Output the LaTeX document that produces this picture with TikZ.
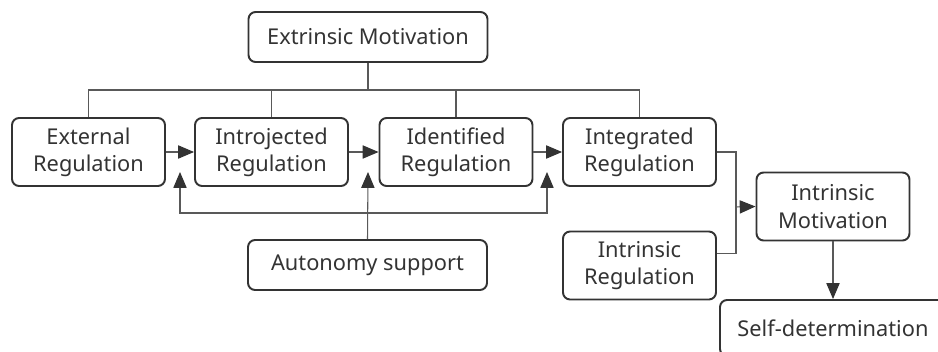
\documentclass[tikz,border=0pt]{standalone}
\usepackage{fontspec}
\setmainfont{Noto Sans}
\usepackage{tikz}
\usetikzlibrary{arrows.meta}

\tikzset{
	box/.style={draw=black!80, line width=1.1pt, rounded corners=4pt, align=center,
		text=black!80, font=\fontsize{12.4}{15.5}\selectfont, inner sep=0pt},
	wide/.style={box, minimum width=4.78cm, minimum height=1cm},
	tall/.style={box, minimum width=3.06cm, minimum height=1.36cm},
	link/.style={draw=black!65, line width=0.6pt},
	arr/.style={link, -{Triangle[length=9pt,width=7.5pt,color=black!80]}}
}

\begin{document}
\begin{tikzpicture}[x=0.02cm, y=-0.02cm]
		\useasboundingbox (0,0) rectangle (938,352);

		\node[wide] (em) at (368, 37) {Extrinsic Motivation};
		\node[tall] (ext) at (88.5, 152) {External\\Regulation};
		\node[tall] (intro) at (271.5, 152) {Introjected\\Regulation};
		\node[tall] (iden) at (456, 152) {Identified\\Regulation};
		\node[tall] (integ) at (639.5, 152) {Integrated\\Regulation};
		\node[wide] (auto) at (367.5, 265) {Autonomy support};
		\node[tall] (intreg) at (639.5, 265.5) {Intrinsic\\Regulation};
		\node[tall] (intmot) at (833, 206.5) {Intrinsic\\Motivation};
		\node[wide, minimum width=4.52cm, minimum height=1.12cm] (self) at (833, 328) {Self-determination};

		\coordinate (bus) at (368, 90);
		\coordinate (up1) at (180, 172);
		\coordinate (up2) at (368, 172);
		\coordinate (up3) at (547, 172);
		\coordinate (loop) at (368, 213);
		\coordinate (jn) at (736, 207);

		\draw[link] (em.south) -- (bus);
		\foreach \n in {ext, intro, iden, integ} {
			\draw[link] (\n.north) |- (bus);
		}
		\foreach \s/\t in {ext/intro, intro/iden, iden/integ} {
			\draw[arr] (\s.east) -- (\t.west);
		}
		% autonomy support feeds the three steps
		\draw[arr] (auto.north) -- (up2);
		\draw[arr] (loop) -| (up1);
		\draw[arr] (loop) -| (up3);

		\draw[link] (integ.east) -| (jn);
		\draw[link] ([yshift=0.24cm]intreg.east) -| (jn);
		\draw[arr] (jn) -- (intmot.west);
		\draw[arr] (intmot.south) -- (self.north);
	\end{tikzpicture}
\end{document}
